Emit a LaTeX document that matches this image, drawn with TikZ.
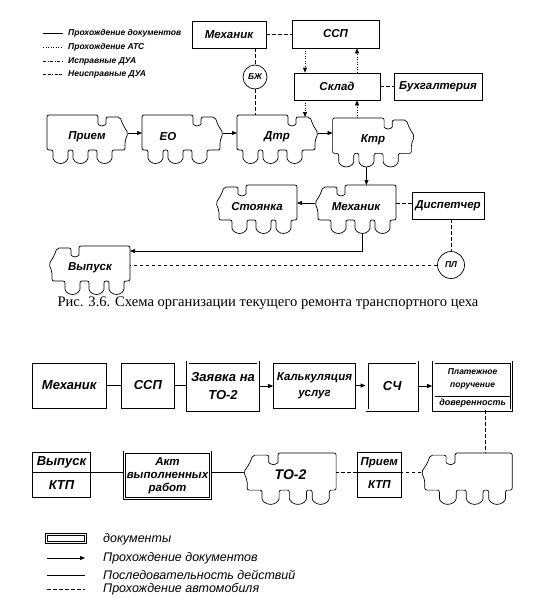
\documentclass[tikz,border=0pt]{standalone}
\usepackage{fontspec}
\setmainfont{Liberation Serif}
\newfontfamily\ars{Liberation Sans}
\usetikzlibrary{arrows.meta}
\tikzset{
  ln/.style={line width=0.7pt},
  bx/.style={draw, ln, inner sep=1pt, align=center, font=\ars\bfseries\itshape\fontsize{11.5}{12}\selectfont},
  bigbx/.style={bx, font=\ars\bfseries\itshape\fontsize{13}{18}\selectfont},
  docbx/.style={bigbx, double, double distance=1.6pt},
  circ/.style={draw, ln, circle, inner sep=0pt, font=\ars\bfseries\itshape\fontsize{8.5}{9}\selectfont},
  trkline/.style={ln, rounded corners=2pt},
  trktxt/.style={font=\ars\bfseries\itshape\fontsize{11.5}{12}\selectfont, inner sep=0pt},
  tipa/.style={-{Triangle[length=5pt,width=4pt]}},
  arr/.style={ln, tipa},
  dsh/.style={ln, dash pattern=on 3.5pt off 2.5pt},
  dots/.style={ln, dash pattern=on 1pt off 1.5pt},
  dotarr/.style={dots, tipa},
  legtxt/.style={anchor=west, inner sep=0pt, font=\ars\bfseries\itshape\fontsize{8.5}{9}\selectfont},
  legtxtb/.style={anchor=west, inner sep=0pt, font=\ars\itshape\fontsize{12.5}{13}\selectfont},
  inner/.style={inner sep=0pt, align=center, font=\ars\bfseries\itshape\fontsize{13}{13}\selectfont},
}
\newcommand\drawtruck[7]{%
  \begin{scope}[shift={(#2,#3)}, xscale=#4, yscale=#5]
    \draw[trkline] (-40,35) -- (-40,0) -- (11,0) -- (11,7)
      arc[start angle=180,end angle=0,radius=4] -- (19,2) -- (33,2) -- (36,10)
      -- (41,18) -- (38,26) -- (38,35) -- (25,35) -- (25,41)
      arc[start angle=0,end angle=180,radius=7.5] -- (10,35) -- (1,35) -- (1,41)
      arc[start angle=0,end angle=180,radius=7.5] -- (-14,35) -- (-19,35) -- (-19,41)
      arc[start angle=0,end angle=180,radius=7.5] -- (-34,35) -- cycle;
    \coordinate (#1-nose) at (41,18);
    \coordinate (#1-back) at (-40,18);
    \coordinate (#1-bu) at (-40,5);
    \coordinate (#1-t) at (0,0);
    \coordinate (#1-c) at (26,2);
    \coordinate (#1-w) at (-6.5,48.5);
    \node[trktxt,#7] (#1) at (0,22) {#6};
  \end{scope}}
\begin{document}
\begin{tikzpicture}[x=1pt,y=-1pt]
\path[fill=white] (0,0) rectangle (536,613);

% ---------- top legend
\coordinate (l1a) at (43,33); \coordinate (l1b) at (63,33);
\coordinate (l2a) at (43,47); \coordinate (l2b) at (63,47);
\coordinate (l3a) at (43,61); \coordinate (l3b) at (63,61);
\coordinate (l4a) at (43,74); \coordinate (l4b) at (63,74);
\draw[ln] (l1a) -- (l1b);
\draw[dots] (l2a) -- (l2b);
\draw[ln, dash pattern=on 3pt off 1.5pt on 1pt off 1.5pt] (l3a) -- (l3b);
\draw[ln, dash pattern=on 3pt off 1.5pt on 3pt off 1.5pt on 1pt off 1.5pt] (l4a) -- (l4b);
\node[legtxt] (t1) at (68,33) {Прохождение документов};
\node[legtxt] (t2) at (68,47) {Прохождение АТС};
\node[legtxt] (t3) at (68,61) {Исправные ДУА};
\node[legtxt] (t4) at (68,74) {Неисправные ДУА};

% ---------- top boxes
\node[bx, minimum width=74, minimum height=27] (mechA) at (229,34.5) {Механик};
\node[bx, minimum width=87, minimum height=28] (sspA) at (335.5,34) {ССП};
\node[bx, minimum width=86, minimum height=27] (sklad) at (337,86.5) {Склад};
\node[bx, minimum width=88, minimum height=27] (buh) at (438,86.5) {Бухгалтерия};
\node[circ, minimum size=24] (bzh) at (255,77) {БЖ};
\node[bx, minimum width=72, minimum height=27] (disp) at (448,205.5) {Диспетчер};
\node[circ, minimum size=27] (pl) at (451,265) {ПЛ};

% ---------- top trucks
\drawtruck{priem}{87}{115}{1}{1}{Прием}{}
\drawtruck{eo}{182}{115}{1}{1}{ЕО}{xshift=-14pt}
\drawtruck{dtr}{277}{115}{1}{1}{Дтр}{}
\drawtruck{ktr}{373}{118}{1.01}{1.01}{Ктр}{}
\drawtruck{stoy}{257}{185}{-1}{1}{Стоянка}{}
\drawtruck{mechB}{356}{185}{-1}{1}{Механик}{}
\drawtruck{vyp}{90}{246}{-1}{1}{Выпуск}{}

% ---------- top connectors
\draw[dsh] (mechA.east) -- (mechA.east -| sspA.west);
\draw[dsh] (bzh |- mechA.south) -- (bzh.north);
\draw[dsh] (bzh.south) -- (bzh |- dtr-t);
\draw[dotarr] (305,0 |- sspA.south) -- (305,0 |- sklad.north);
\draw[dotarr] (357,0 |- sklad.north) -- (357,0 |- sspA.south);
\draw[dotarr] (305,0 |- sklad.south) -- (305,0 |- dtr-c);
\draw[dotarr] (357,0 |- ktr-t) -- (357,0 |- sklad.south);
\draw[dsh] (sklad.east) -- (sklad.east -| buh.west);
\draw[arr] (priem-nose) -- (priem-nose -| eo-back);
\draw[arr] (eo-nose) -- (eo-nose -| dtr-back);
\draw[arr] (dtr-nose) -- (dtr-nose -| ktr-back);
\draw[arr] (ktr-w) -- (ktr-w |- mechB-t);
\draw[arr] (mechB-nose) -- (mechB-nose -| stoy-back);
\draw[dsh] (mechB-back) -- (mechB-back -| disp.west);
\draw[dsh] (pl |- disp.south) -- (pl.north);
\draw[arr] (mechB-w) |- (vyp-bu);
\draw[dsh] (pl.west) -- (pl.west -| vyp-back);

% ---------- caption
\node[font=\fontsize{14.6}{17}\selectfont, inner sep=0pt] (cap) at (268,303) {Рис. 3.6. Схема организации текущего ремонта транспортного цеха};

% ---------- bottom row 1
\node[bigbx, minimum width=73.5, minimum height=45] (mechC) at (69.25,385.5) {Механик};
\node[bigbx, minimum width=53, minimum height=45] (sspC) at (147.85,385.5) {ССП};
\node[docbx, minimum width=70.5, minimum height=48, font=\ars\bfseries\itshape\fontsize{13}{18}\selectfont] (zay) at (223,386) {Заявка на\\ТО-2};
\node[bx, minimum width=82, minimum height=45, font=\ars\bfseries\itshape\fontsize{11.5}{16}\selectfont] (kalk) at (314.5,385.5) {Калькуляция\\услуг};
\node[docbx, minimum width=50, minimum height=48] (sch) at (392.25,386) {СЧ};
\node[docbx, minimum width=77.4, minimum height=48] (plat) at (472.6,386) {};
\node[inner, font=\ars\bfseries\itshape\fontsize{8.5}{13.5}\selectfont] (platA) at (472.6,379) {Платежное\\поручение};
\node[inner, font=\ars\bfseries\itshape\fontsize{9}{10}\selectfont] (platB) at (472.6,403.5) {доверенность};
\draw[ln, shorten <=1.2pt, shorten >=1.2pt] (plat.west |- 0,396) -- (plat.east |- 0,396);

% ---------- bottom row 2
\node[bigbx, minimum width=58, minimum height=45] (vkt) at (61.5,474.5) {};
\node[inner] (vktA) at (61.5,462.5) {Выпуск};
\node[inner] (vktB) at (61.5,485) {КТП};
\draw[ln] (vkt.west |- 0,472) -- (vkt.east |- 0,472);
\node[docbx, minimum width=86, minimum height=46.5, font=\ars\bfseries\itshape\fontsize{11.5}{13}\selectfont] (akt) at (167.5,475.25) {Акт\\выполненных\\работ};
\drawtruck{to2}{290.5}{453}{-1.14}{1.06}{ТО-2}{font=\ars\bfseries\itshape\fontsize{14}{15}\selectfont, yshift=2pt}
\node[bx, minimum width=44.6, minimum height=45] (pkt) at (379.3,474.5) {};
\node[inner, font=\ars\bfseries\itshape\fontsize{11.5}{12}\selectfont] (pktA) at (379.3,462.5) {Прием};
\node[inner, font=\ars\bfseries\itshape\fontsize{11.5}{12}\selectfont] (pktB) at (379.3,485) {КТП};
\draw[ln] (pkt.west |- 0,472) -- (pkt.east |- 0,472);
\drawtruck{last}{467.4}{453}{-1.12}{1.06}{}{}

% ---------- bottom connectors
\draw[ln] (mechC.east) -- (mechC.east -| sspC.west);
\draw[ln] (sspC.east) -- (sspC.east -| zay.west);
\draw[arr] (zay.east) -- (zay.east -| kalk.west);
\draw[arr, shorten >=1.4pt] (kalk.east) -- (kalk.east -| sch.west);
\draw[arr, shorten >=1.4pt] (sch.east) -- (sch.east -| plat.west);
\draw[dsh] (485.4,0 |- plat.south) -- (485.4,0 |- last-t);
\draw[dsh] (last-nose) -- (last-nose -| pkt.east);
\draw[dsh] (pkt.west |- to2-back) -- (to2-back);
\draw[ln] (to2-nose) -- (to2-nose -| akt.east);
\draw[ln] (akt.west |- to2-nose) -- (vkt.east |- to2-nose);

% ---------- bottom legend
\node[docbx, minimum width=39, minimum height=8, inner sep=0pt] (ldoc) at (66,538.5) {};
\node[legtxtb] (tdoc) at (103,539) {документы};
\coordinate (la1) at (47,558); \coordinate (lb1) at (85,558);
\coordinate (la2) at (47,575); \coordinate (lb2) at (85,575);
\coordinate (la3) at (47,589); \coordinate (lb3) at (85,589);
\draw[arr] (la1) -- (lb1);
\draw[ln] (la2) -- (lb2);
\draw[dsh] (la3) -- (lb3);
\node[legtxtb] (tl1) at (103,558) {Прохождение документов};
\node[legtxtb] (tl2) at (103,575) {Последовательность действий};
\node[legtxtb] (tl3) at (103,589) {Прохождение автомобиля};
\end{tikzpicture}
\end{document}
